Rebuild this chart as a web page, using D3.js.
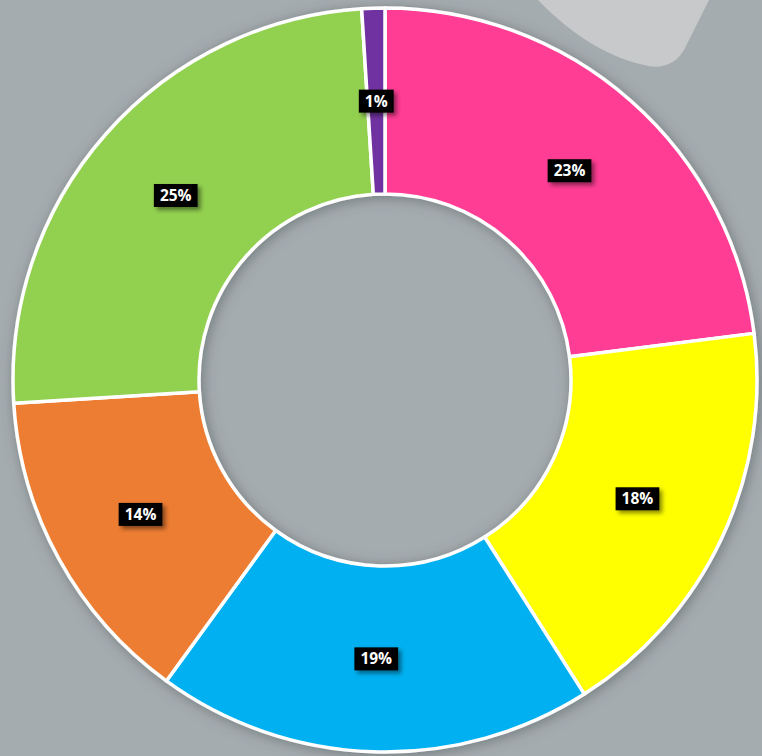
<!DOCTYPE html>
<html>
<head>
<meta charset="utf-8">
<script src="https://cdn.jsdelivr.net/npm/d3@7"></script>
<style>
  html, body { margin: 0; padding: 0; background: #a5acaf; }
  svg { display: block; }
</style>
</head>
<body>
<div id="chartDiv"></div>
<script>
// slice data, clockwise from 12 o'clock
var categories = ["A", "B", "C", "D", "E", "F"];
var values = [23, 18, 19, 14, 25, 1];
var labels = ["23%", "18%", "19%", "14%", "25%", "1%"];
var colours = ["#ff3d94", "#ffff00", "#00b0f0", "#ed7d31", "#92d050", "#7030a0"];

var width = 762, height = 756;
var centre = { x: 385, y: 380 };
var outerRadius = 372, innerRadius = 186;

var svg = d3.select("#chartDiv")
    .append("svg")
    .attr("width", width)
    .attr("height", height);

var defs = svg.append("defs");

// soft shadow around the ring
var ringShadow = defs.append("filter").attr("id", "ringShadow")
    .attr("x", "-10%").attr("y", "-10%").attr("width", "120%").attr("height", "120%");
ringShadow.append("feDropShadow")
    .attr("dx", 2).attr("dy", 2).attr("stdDeviation", 7)
    .attr("flood-color", "#4a5256").attr("flood-opacity", 0.55);

var labelShadow = defs.append("filter").attr("id", "labelShadow")
    .attr("x", "-30%").attr("y", "-30%").attr("width", "170%").attr("height", "180%");
labelShadow.append("feDropShadow")
    .attr("dx", 3).attr("dy", 3).attr("stdDeviation", 2)
    .attr("flood-color", "#000").attr("flood-opacity", 0.45);

svg.append("rect")
    .attr("width", width).attr("height", height)
    .attr("fill", "#a5acaf");

// light grey shape peeking in at the top right
svg.append("path")
    .attr("d", "M538,0 C575,38 610,58 648,66 Q672,70 684,50 L709,0 Z")
    .attr("fill", "#c8c9ca");

var pie = d3.pie().sort(null).value(d => d);
var arc = d3.arc().innerRadius(innerRadius).outerRadius(outerRadius);

var arcs = pie(values);

var g = svg.append("g")
    .attr("transform", "translate(" + centre.x + "," + centre.y + ")");

g.append("g")
    .attr("filter", "url(#ringShadow)")
    .selectAll("path")
    .data(arcs)
    .enter()
    .append("path")
    .attr("d", arc)
    .attr("fill", (d, i) => colours[i])
    .attr("stroke", "#ffffff")
    .attr("stroke-width", 3.5)
    .attr("stroke-linejoin", "round");

// labels
var labelG = g.selectAll(".lbl")
    .data(arcs)
    .enter()
    .append("g")
    .attr("class", "lbl")
    .attr("transform", d => "translate(" + arc.centroid(d) + ")");

labelG.each(function (d, i) {
    var node = d3.select(this);
    var text = node.append("text")
        .attr("text-anchor", "middle")
        .attr("dy", "0.36em")
        .style("font-family", "'Open Sans', 'DejaVu Sans', sans-serif")
        .style("font-weight", "bold")
        .style("font-size", "15.5px")
        .attr("fill", "#ffffff")
        .text(labels[i]);
    var bb = text.node().getBBox();
    node.insert("rect", "text")
        .attr("x", bb.x - 6)
        .attr("y", -11.5)
        .attr("width", bb.width + 12)
        .attr("height", 23)
        .attr("fill", "#000000")
        .attr("filter", "url(#labelShadow)");
});
</script>
</body>
</html>
